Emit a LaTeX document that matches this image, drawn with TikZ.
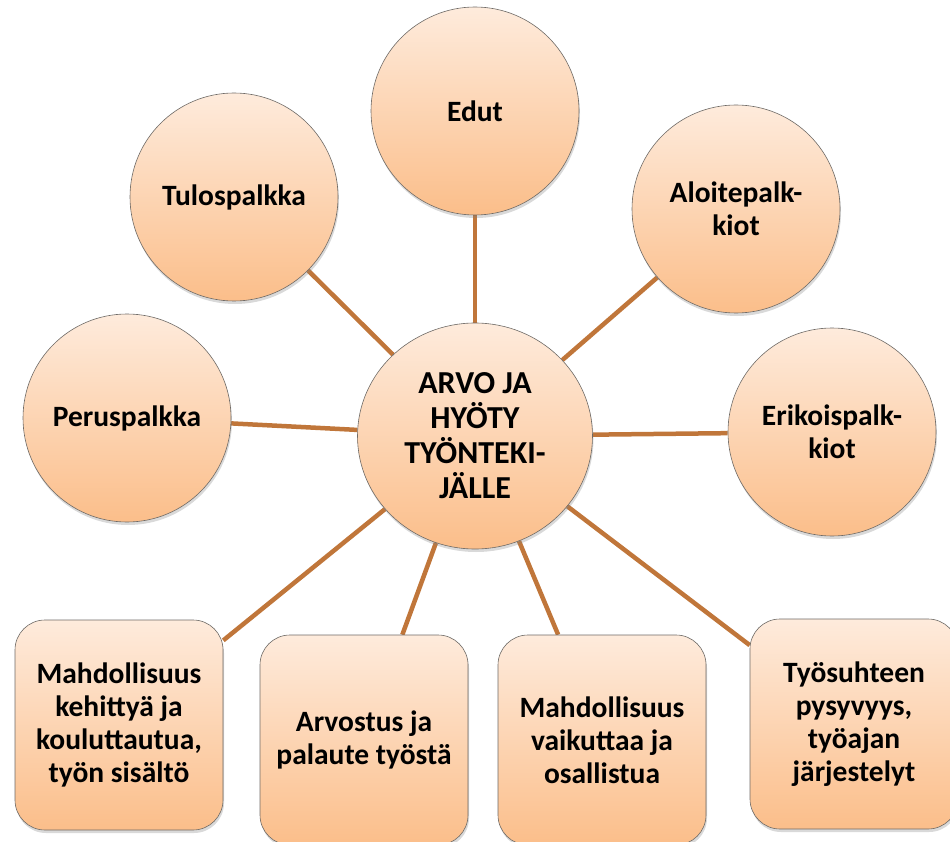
\documentclass[tikz,border=0pt]{standalone}
\usepackage{fontspec}
\setmainfont{Carlito}
\usepackage{tikz}
\usetikzlibrary{backgrounds}
\usetikzlibrary{shapes.geometric}
\usetikzlibrary{shadows}
\definecolor{pchtop}{HTML}{FEEBDC}
\definecolor{pchbot}{HTML}{FBBE8A}
\definecolor{pchline}{HTML}{C0763A}
\definecolor{pchedge}{HTML}{6E6A66}
\newcommand{\crcd}{208pt}
\newcommand{\ctrw}{235pt}
\newcommand{\ctrh}{226pt}
\newcommand{\bxw}{208pt}
\newcommand{\bxh}{210pt}
\newcommand{\bxr}{30pt}

\begin{document}
\begin{tikzpicture}[x=1pt,y=-1pt,font=\fontsize{29.5}{33}\selectfont\bfseries,
    pch/.style={draw=pchedge,line width=0.6pt,top color=pchtop,
      bottom color=pchbot,align=center,inner sep=0pt,
      drop shadow={shadow xshift=1pt,shadow yshift=-3pt,opacity=0.3}},
    crc/.style={pch,circle,minimum size=\crcd},
    ctr/.style={pch,ellipse,minimum width=\ctrw,minimum height=\ctrh,
      font=\fontsize{32}{35}\selectfont\bfseries},
    rbx/.style={pch,rectangle,rounded corners=\bxr,
      minimum width=\bxw,minimum height=\bxh},
    spk/.style={draw=pchline,line width=4.5pt}]
    \useasboundingbox (0,0) rectangle (950,842);

    \node (arvo) at (475,436) [ctr] {ARVO JA\\HYÖTY\\TYÖNTEKI-\\JÄLLE};

    \node (edut) at (475,111) [crc] {Edut};
    \node (tulos) at (234,197) [crc] {Tulospalkka};
    \node (aloite) at (736,209) [crc] {Aloitepalk-\\kiot};
    \node (perus) at (127,418) [crc] {Peruspalkka};
    \node (erikois) at (832,432) [crc] {Erikoispalk-\\kiot};

    \node (kehit) at (119,725) [rbx]
      {Mahdollisuus\\kehittyä ja\\kouluttautua,\\työn sisältö};
    \node (arvost) at (364,740) [rbx] {Arvostus ja\\palaute työstä};
    \node (vaikut) at (602,740) [rbx]
      {Mahdollisuus\\vaikuttaa ja\\osallistua};
    \node (tyosuh) at (854,724) [rbx]
      {Työsuhteen\\pysyvyys,\\työajan\\järjestelyt};

    \begin{scope}[on background layer]
      \draw [spk] (arvo) -- (edut);
      \draw [spk] (arvo) -- (tulos);
      \draw [spk] (arvo) -- (aloite);
      \draw [spk] (arvo) -- (perus);
      \draw [spk] (arvo) -- (erikois);
      \draw [spk] (arvo) -- (kehit);
      \draw [spk] (arvo) -- (arvost);
      \draw [spk] (arvo) -- (vaikut);
      \draw [spk] (arvo) -- (tyosuh);
    \end{scope}
  \end{tikzpicture}
\end{document}
